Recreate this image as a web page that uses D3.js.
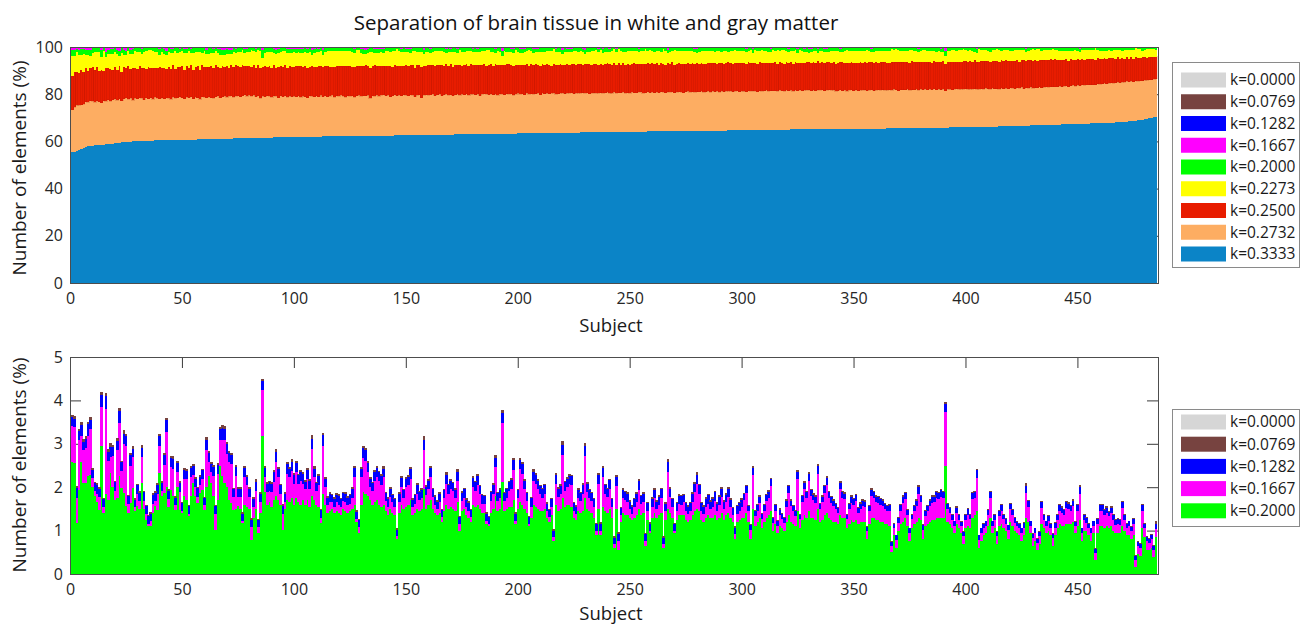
<!DOCTYPE html>
<html lang="en">
<head>
<meta charset="UTF-8">
<title>Separation of brain tissue in white and gray matter</title>
<script src="https://d3js.org/d3.v7.min.js"></script>
<style>
  body { margin: 0; background: #fff; font-family: "Open Sans", "Noto Sans", sans-serif; }
  .tick text { font-size: 16px; fill: #262626; font-family: "Open Sans", "Noto Sans", sans-serif; }
  .tick line { stroke: #3a3a3a; }
  .legend text { font-size: 15.5px; fill: #1a1a1a; }
</style>
</head>
<body>
<div id="chart"></div>
<script>
// percentage of elements per subject, one array per k value (subjects 1..485)
const k3333 = [
55.3,55.6,56.0,56.4,56.8,57.3,57.8,58.0,58.1,58.2,58.3,58.3,58.4,58.5,58.6,58.7,58.8,58.9,59.0,59.2,
59.3,59.5,59.6,59.7,59.8,59.9,59.9,60.0,60.0,60.1,60.1,60.2,60.2,60.2,60.3,60.3,60.3,60.4,60.4,60.4,
60.4,60.5,60.5,60.5,60.5,60.6,60.6,60.6,60.6,60.7,60.7,60.7,60.8,60.8,60.8,60.8,60.9,60.9,60.9,61.0,
61.0,61.0,61.0,61.1,61.1,61.1,61.1,61.2,61.2,61.2,61.2,61.2,61.3,61.3,61.3,61.3,61.4,61.4,61.4,61.4,
61.5,61.5,61.5,61.5,61.5,61.6,61.6,61.6,61.6,61.6,61.7,61.7,61.7,61.7,61.7,61.8,61.8,61.8,61.8,61.8,
61.9,61.9,61.9,61.9,61.9,61.9,62.0,62.0,62.0,62.0,62.0,62.0,62.1,62.1,62.1,62.1,62.1,62.1,62.2,62.2,
62.2,62.2,62.2,62.2,62.2,62.3,62.3,62.3,62.3,62.3,62.3,62.4,62.4,62.4,62.4,62.4,62.4,62.5,62.5,62.5,
62.5,62.5,62.5,62.5,62.6,62.6,62.6,62.6,62.6,62.6,62.7,62.7,62.7,62.7,62.7,62.7,62.7,62.8,62.8,62.8,
62.8,62.8,62.8,62.8,62.9,62.9,62.9,62.9,62.9,62.9,62.9,63.0,63.0,63.0,63.0,63.0,63.0,63.0,63.1,63.1,
63.1,63.1,63.1,63.1,63.1,63.2,63.2,63.2,63.2,63.2,63.2,63.2,63.3,63.3,63.3,63.3,63.3,63.3,63.3,63.4,
63.4,63.4,63.4,63.4,63.4,63.4,63.5,63.5,63.5,63.5,63.5,63.5,63.5,63.6,63.6,63.6,63.6,63.6,63.6,63.6,
63.7,63.7,63.7,63.7,63.7,63.7,63.7,63.8,63.8,63.8,63.8,63.8,63.8,63.8,63.8,63.9,63.9,63.9,63.9,63.9,
63.9,63.9,64.0,64.0,64.0,64.0,64.0,64.0,64.0,64.0,64.1,64.1,64.1,64.1,64.1,64.1,64.1,64.2,64.2,64.2,
64.2,64.2,64.2,64.2,64.2,64.3,64.3,64.3,64.3,64.3,64.3,64.3,64.4,64.4,64.4,64.4,64.4,64.4,64.4,64.5,
64.5,64.5,64.5,64.5,64.5,64.5,64.6,64.6,64.6,64.6,64.6,64.6,64.6,64.7,64.7,64.7,64.7,64.7,64.7,64.7,
64.8,64.8,64.8,64.8,64.8,64.8,64.8,64.9,64.9,64.9,64.9,64.9,64.9,64.9,65.0,65.0,65.0,65.0,65.0,65.0,
65.0,65.1,65.1,65.1,65.1,65.1,65.1,65.1,65.2,65.2,65.2,65.2,65.2,65.2,65.2,65.3,65.3,65.3,65.3,65.3,
65.1,65.1,65.1,65.2,65.2,65.2,65.2,65.2,65.2,65.2,65.3,65.3,65.3,65.3,65.3,65.3,65.3,65.4,65.4,65.4,
65.4,65.4,65.4,65.4,65.5,65.5,65.5,65.5,65.5,65.5,65.5,65.6,65.6,65.6,65.6,65.6,65.6,65.6,65.7,65.7,
65.7,65.7,65.7,65.7,65.7,65.8,65.8,65.8,65.8,65.8,65.8,65.8,65.9,65.9,65.9,65.9,65.9,65.9,66.0,66.0,
66.0,66.0,66.1,66.1,66.1,66.1,66.2,66.2,66.2,66.2,66.3,66.3,66.3,66.3,66.4,66.4,66.4,66.5,66.5,66.5,
66.5,66.6,66.6,66.6,66.7,66.7,66.7,66.7,66.8,66.8,66.8,66.9,66.9,66.9,66.9,67.0,67.0,67.0,67.1,67.1,
67.1,67.1,67.2,67.2,67.2,67.2,67.3,67.3,67.3,67.4,67.4,67.4,67.5,67.5,67.5,67.6,67.6,67.7,67.7,67.7,
67.8,67.8,67.9,67.9,68.0,68.0,68.1,68.1,68.2,68.2,68.3,68.4,68.5,68.6,68.7,68.8,68.9,69.0,69.2,69.4,
69.6,69.8,70.0,70.2,70.4
];

const k2732 = [
18.2,18.9,19.3,19.0,18.7,18.4,18.9,18.6,19.1,18.8,18.3,18.9,18.5,17.9,18.7,18.4,18.9,18.2,18.6,18.8,
18.1,18.5,17.6,18.3,18.6,18.0,18.4,17.5,18.2,17.9,18.3,18.0,17.4,18.2,17.8,18.1,17.6,18.3,17.9,17.7,
18.2,17.5,18.0,17.8,17.3,18.1,17.7,17.9,18.3,17.8,17.4,18.0,17.6,18.2,17.3,17.9,17.7,16.9,18.1,17.8,
17.5,18.0,17.6,17.2,17.9,18.3,17.4,17.8,18.0,17.6,17.9,18.2,17.5,17.8,18.1,17.6,17.9,18.4,17.8,18.1,
17.7,18.0,17.4,17.9,16.8,17.6,17.3,17.8,17.5,17.1,17.7,17.4,16.9,17.6,17.3,17.5,17.0,17.4,17.2,17.3,
17.1,17.5,16.8,17.3,17.0,16.5,17.4,17.1,16.9,17.3,17.0,17.5,16.8,17.2,16.9,17.1,17.4,16.7,17.2,16.9,
17.3,17.0,16.6,17.2,16.9,17.1,16.4,17.0,17.3,16.8,17.1,16.9,17.2,15.9,17.0,16.8,17.1,16.6,17.0,17.2,
16.8,17.1,16.5,16.9,17.2,16.7,17.0,16.8,17.1,16.9,16.6,17.0,16.8,16.3,16.9,17.1,15.8,16.8,17.0,16.7,
16.9,17.1,16.6,16.9,17.0,16.5,16.8,17.1,16.7,16.9,16.4,16.8,17.0,16.6,16.9,16.7,17.1,16.5,16.8,16.9,
16.6,16.9,16.3,16.8,17.0,16.7,16.5,16.9,16.6,16.8,16.4,16.9,16.7,16.5,16.8,16.6,16.9,16.2,16.7,16.9,
16.6,16.8,16.4,16.9,16.6,16.8,16.5,16.7,16.9,16.3,16.8,16.6,16.9,16.5,16.7,16.8,16.4,16.6,16.9,16.7,
16.5,16.8,16.6,16.9,16.4,16.7,16.8,16.5,16.9,16.6,16.8,16.3,16.7,16.9,16.5,16.6,16.8,16.4,16.7,16.9,
16.6,16.5,16.8,16.3,16.7,16.6,16.9,16.5,16.7,16.4,16.8,16.6,16.5,16.7,16.9,16.4,16.6,16.8,16.5,16.7,
16.4,16.7,16.5,16.8,16.6,16.3,16.7,16.5,16.8,16.4,16.6,16.7,16.5,16.2,16.6,16.8,16.5,16.7,16.4,16.6,
16.5,16.7,16.3,16.6,16.8,16.4,16.6,16.5,16.7,16.3,16.6,16.4,16.7,16.5,16.6,16.3,16.5,16.7,16.4,16.6,
16.5,16.3,16.6,16.4,16.7,16.5,16.2,16.6,16.4,16.5,16.7,16.3,16.5,16.6,16.4,16.2,16.6,16.5,16.3,16.6,
16.4,16.5,16.2,16.6,16.4,16.7,16.3,16.5,16.4,16.6,16.2,16.5,16.3,16.6,16.4,16.5,16.1,16.4,16.6,16.3,
16.5,16.2,16.4,16.6,16.3,16.5,16.1,16.4,16.6,16.3,16.5,16.2,16.4,16.3,16.6,16.2,16.4,16.5,16.1,16.3,
16.4,16.2,16.5,16.3,16.1,16.4,16.2,16.5,16.3,16.0,16.4,16.2,16.3,16.5,16.1,16.3,16.2,16.4,16.0,16.3,
16.2,16.4,16.1,16.3,16.2,16.5,16.0,16.3,16.1,16.4,15.6,16.2,16.3,16.0,16.2,16.4,16.1,16.2,16.0,16.3,
16.1,16.2,16.0,16.3,16.1,15.9,16.2,16.0,16.3,16.1,15.9,16.2,16.0,16.1,15.8,16.2,16.0,16.1,15.9,16.2,
16.0,15.8,16.1,15.9,16.2,15.7,16.0,15.9,16.1,15.8,16.0,15.9,16.2,15.8,16.0,16.1,15.9,16.2,16.0,16.1,
16.0,16.2,15.9,16.1,16.3,16.0,16.2,16.4,16.1,16.3,16.2,16.5,16.3,16.4,16.6,16.3,16.5,16.4,16.7,16.5,
16.6,16.8,16.5,16.7,16.9,16.6,16.8,17.0,16.7,16.9,16.8,17.0,16.7,16.9,16.6,16.8,16.5,16.7,16.4,16.6,
16.4,16.3,16.2,16.1,16.1
];

const k2500 = [
14.1,15.0,14.2,13.6,14.8,13.9,14.5,13.2,14.1,14.6,13.5,14.2,12.9,13.8,12.6,14.1,13.2,13.7,12.5,13.4,
13.0,13.8,12.4,13.5,12.9,13.9,12.2,13.4,13.1,12.6,13.7,12.8,13.3,12.1,13.6,12.9,13.4,12.3,13.0,13.5,
12.7,13.3,12.1,13.2,12.8,13.6,12.4,13.0,12.6,13.4,12.2,13.1,12.9,13.5,12.3,12.8,13.2,12.5,13.3,12.7,
12.9,12.4,13.2,12.6,13.4,12.1,12.8,13.0,12.5,13.3,12.2,12.9,12.6,13.1,12.4,12.8,13.2,12.3,12.9,12.6,
12.4,12.9,12.2,13.0,12.7,12.5,13.1,12.3,12.8,12.6,13.0,12.2,12.9,12.5,12.7,13.1,12.4,12.8,12.6,12.3,
12.8,12.5,13.1,12.4,12.9,12.6,12.2,13.0,12.7,12.4,12.9,12.3,12.8,12.6,13.0,12.5,12.2,12.9,12.6,12.8,
12.4,12.7,13.0,12.5,12.8,12.3,12.9,12.6,12.2,12.8,12.5,12.9,12.4,12.7,12.6,13.0,12.3,12.8,12.5,12.2,
12.7,12.5,12.9,12.3,12.6,12.8,12.4,12.7,12.2,12.9,12.5,12.6,12.8,12.3,12.7,12.4,12.9,12.5,12.2,12.8,
12.5,12.3,12.7,12.6,12.4,12.8,12.2,12.6,12.5,12.9,12.3,12.7,12.4,12.6,12.2,12.8,12.5,12.3,12.7,12.4,
12.6,12.3,12.8,12.4,12.5,12.2,12.7,12.5,12.3,12.6,12.8,12.4,12.2,12.6,12.5,12.7,12.3,12.5,12.4,12.1,
12.4,12.1,12.6,12.3,12.0,12.5,12.2,12.4,11.9,12.3,12.6,12.1,12.4,12.2,11.8,12.5,12.3,12.0,12.4,12.2,
12.1,12.4,11.9,12.3,12.5,12.0,12.2,12.4,11.8,12.3,12.1,12.5,12.0,12.2,12.4,11.9,12.3,12.1,12.0,12.4,
12.2,11.9,12.3,12.1,12.4,11.8,12.2,12.0,12.3,12.1,11.9,12.4,12.2,12.0,11.8,12.3,12.1,12.2,11.9,12.3,
12.0,12.2,11.8,12.3,12.1,11.9,12.2,12.0,12.4,11.8,12.1,12.3,11.9,12.2,12.0,12.1,11.7,12.2,12.0,12.3,
11.9,12.1,12.2,11.8,12.0,12.3,11.9,12.1,11.7,12.2,12.0,11.8,12.1,12.3,11.9,12.0,12.2,11.8,12.1,11.9,
12.0,11.8,12.2,11.9,11.7,12.1,11.9,12.2,11.8,12.0,11.6,12.1,11.9,11.7,12.2,11.8,12.0,11.9,11.6,12.1,
11.8,12.0,11.7,12.1,11.9,11.6,12.0,11.8,12.2,11.7,11.9,12.0,11.6,12.1,11.8,11.9,11.7,12.0,11.8,11.6,
12.0,11.7,11.9,11.8,12.1,11.6,11.9,11.7,12.0,11.8,11.5,11.9,12.0,11.7,11.8,11.6,12.0,11.7,11.9,11.8,
11.6,11.9,11.7,12.0,11.8,11.5,11.9,11.7,11.8,12.0,11.6,11.8,11.9,11.5,11.7,12.0,11.8,11.6,11.9,11.7,
11.8,11.6,11.9,11.7,11.5,11.8,12.0,11.6,11.7,11.9,11.4,11.8,11.6,11.9,11.7,11.5,11.8,11.6,11.9,11.7,
11.6,11.8,11.5,11.9,11.4,11.7,11.6,11.8,11.5,11.9,11.3,11.7,11.6,11.8,11.4,11.7,11.5,11.9,11.6,11.4,
11.7,11.5,11.8,11.3,11.6,11.9,11.4,11.7,11.5,11.6,11.8,11.3,11.6,11.7,11.4,11.6,11.5,11.8,11.3,11.6,
11.4,11.2,11.5,11.1,11.3,11.0,11.4,10.9,11.2,11.1,10.8,11.2,10.9,11.0,10.7,11.1,10.8,10.6,10.9,10.7,
10.5,10.8,10.4,10.6,10.3,10.7,10.2,10.5,10.1,10.4,10.0,10.3,9.9,10.2,9.8,10.1,9.9,9.7,10.0,9.6,
9.5,9.8,9.4,9.6,9.3
];

const k2000 = [
2.57,2.55,1.18,1.94,2.59,2.10,2.10,2.25,2.29,2.00,1.80,1.65,1.48,2.94,1.40,1.85,1.71,2.33,2.00,1.71,
1.75,2.25,1.98,1.87,1.56,1.40,1.64,1.98,1.45,1.56,1.50,2.10,1.50,1.25,1.10,1.10,1.40,1.56,1.48,2.33,
1.79,1.87,2.00,1.55,1.94,1.79,1.48,2.00,1.48,1.40,1.79,1.70,1.33,1.79,2.10,1.79,1.64,1.87,1.94,1.48,
2.00,2.25,2.10,1.79,1.02,1.71,2.48,2.25,2.10,2.00,1.71,1.64,1.48,1.50,1.56,1.50,1.18,1.60,1.55,1.50,
0.79,1.30,1.50,0.95,1.40,3.17,1.90,1.60,1.65,1.55,1.70,1.80,1.70,1.60,1.02,1.50,1.70,1.65,1.75,1.60,
1.75,1.65,1.60,1.70,1.60,1.70,1.55,1.80,1.70,1.60,1.55,1.17,1.85,1.60,1.40,1.45,1.50,1.40,1.45,1.40,
1.35,1.50,1.45,1.40,1.45,1.50,1.60,1.20,0.95,1.60,1.90,1.85,1.80,1.70,1.60,1.65,1.70,1.60,1.55,1.60,
1.45,1.35,1.50,1.40,1.35,0.80,1.40,1.60,1.50,1.55,1.60,1.70,1.35,1.40,1.50,1.45,1.50,1.95,1.50,1.60,
1.70,1.50,1.40,1.35,1.40,1.20,1.45,1.60,1.50,1.55,1.50,1.45,1.65,1.00,1.45,1.50,1.35,1.30,1.20,1.60,
1.55,1.60,1.50,1.40,1.40,1.15,1.10,1.40,1.50,1.80,1.45,1.50,2.13,1.45,1.50,1.55,1.55,1.70,1.15,1.50,
1.65,1.60,1.50,1.40,1.10,1.30,1.60,1.55,1.50,1.45,1.45,1.50,1.30,1.20,1.35,0.75,1.60,1.45,1.50,1.75,
1.55,1.60,1.60,1.55,1.30,1.25,1.45,1.40,1.45,1.75,1.50,1.45,1.40,1.30,0.90,1.50,0.90,1.55,1.45,1.40,
1.50,1.30,0.60,1.50,0.56,1.20,1.40,1.35,1.35,1.30,1.25,1.30,1.35,1.50,1.35,1.40,0.65,1.25,0.95,1.30,
1.40,1.30,1.35,1.40,0.60,1.25,1.50,1.40,1.30,0.95,1.25,1.35,1.35,1.35,1.25,1.20,1.25,1.35,1.45,1.50,
1.45,1.25,1.20,1.30,1.35,1.30,1.30,1.35,1.25,1.30,1.40,1.25,1.35,1.40,1.30,1.20,0.80,1.20,1.25,1.30,
1.30,1.40,1.20,0.80,1.50,1.10,1.20,1.30,1.05,1.20,1.30,1.35,1.45,1.00,1.15,0.95,1.10,1.05,1.00,1.20,
1.35,1.20,1.15,1.10,1.45,1.05,1.25,1.35,1.30,1.45,1.30,1.30,1.25,1.50,1.20,1.25,1.35,1.40,1.30,1.25,
1.20,1.20,1.15,1.35,1.30,1.30,1.05,1.15,1.25,1.20,1.25,1.15,1.20,1.20,1.20,0.80,1.15,1.30,1.30,1.25,
1.25,1.20,1.20,1.15,1.15,1.10,0.50,0.90,0.60,1.00,1.15,1.20,1.30,1.10,0.75,1.05,1.15,1.20,1.30,1.25,
0.80,1.10,1.15,1.20,1.25,1.25,1.30,1.30,1.30,1.30,2.48,1.20,1.15,1.05,0.95,1.15,1.05,0.95,0.70,1.05,
1.10,1.05,1.30,1.35,1.45,0.60,0.75,0.90,0.95,1.10,1.30,0.95,1.05,0.70,1.10,1.15,1.05,1.00,0.80,1.20,
1.10,1.00,0.95,0.90,0.75,0.90,1.30,1.20,0.95,0.65,0.75,0.55,0.70,1.15,1.05,0.95,1.00,0.90,0.65,0.90,
1.05,1.15,1.10,1.10,1.15,1.15,1.15,1.20,0.95,1.10,1.25,0.75,1.00,1.00,0.90,0.75,0.95,0.32,0.95,1.10,
1.10,1.05,1.10,1.05,1.10,1.00,0.95,0.95,0.95,1.10,1.00,0.90,0.90,0.80,0.90,0.15,0.45,0.42,1.05,0.85,
0.55,0.55,0.60,0.40,0.85
];

const k1667 = [
0.83,0.83,0.57,1.14,0.60,0.75,0.80,0.94,1.06,0.22,0.12,0.20,0.29,0.91,0.15,1.95,0.90,0.36,0.73,0.21,
1.10,1.22,0.40,1.13,1.40,0.22,0.86,0.71,0.09,0.29,0.19,0.59,0.19,0.14,0.05,0.13,0.22,0.13,0.37,0.61,
0.13,0.65,1.27,0.18,0.52,0.63,0.10,0.35,0.40,0.06,0.40,0.49,0.06,0.44,0.19,0.21,0.13,0.19,0.25,0.10,
0.85,0.33,0.25,0.46,0.37,0.60,0.60,0.83,0.98,0.77,0.87,0.90,0.29,0.75,0.21,0.27,0.05,0.63,0.50,0.27,
0.29,0.24,0.42,0.13,0.25,1.06,0.33,0.29,0.27,0.34,0.42,0.78,0.53,0.25,0.37,0.15,0.61,0.58,0.63,0.48,
0.60,0.43,0.55,0.38,0.35,0.49,0.40,1.07,0.53,0.32,0.50,0.13,1.09,0.40,0.18,0.20,0.15,0.14,0.20,0.20,
0.19,0.19,0.20,0.18,0.17,0.25,0.63,0.07,0.13,0.63,0.77,0.76,0.55,0.30,0.32,0.50,0.53,0.55,0.50,0.63,
0.24,0.19,0.27,0.25,0.19,0.07,0.25,0.40,0.25,0.45,0.45,0.49,0.19,0.22,0.35,0.25,0.25,0.90,0.31,0.35,
0.53,0.27,0.18,0.15,0.25,0.11,0.30,0.48,0.35,0.40,0.42,0.30,0.50,0.15,0.24,0.25,0.19,0.15,0.11,0.40,
0.37,0.45,0.35,0.22,0.22,0.08,0.06,0.29,0.35,0.66,0.24,0.25,1.34,0.24,0.25,0.37,0.40,0.70,0.08,0.25,
0.77,0.71,0.45,0.29,0.06,0.25,0.55,0.53,0.45,0.40,0.30,0.35,0.15,0.11,0.19,0.10,0.48,0.32,0.35,1.00,
0.37,0.40,0.48,0.49,0.16,0.14,0.30,0.29,0.40,0.98,0.38,0.30,0.29,0.24,0.10,0.58,0.10,0.68,0.40,0.37,
0.46,0.25,0.09,0.52,0.21,0.15,0.35,0.35,0.30,0.20,0.14,0.24,0.30,0.44,0.27,0.25,0.12,0.21,0.05,0.25,
0.35,0.20,0.25,0.35,0.09,0.20,0.85,0.37,0.25,0.05,0.21,0.27,0.25,0.30,0.20,0.19,0.21,0.30,0.43,0.58,
0.40,0.21,0.19,0.25,0.27,0.20,0.25,0.34,0.21,0.30,0.37,0.25,0.30,0.37,0.24,0.15,0.12,0.19,0.20,0.24,
0.40,0.47,0.25,0.22,0.79,0.23,0.25,0.34,0.21,0.25,0.38,0.40,0.57,0.18,0.30,0.15,0.25,0.21,0.18,0.35,
0.52,0.36,0.30,0.23,0.74,0.21,0.40,0.60,0.45,0.69,0.49,0.40,0.39,0.81,0.29,0.40,0.52,0.66,0.45,0.39,
0.36,0.30,0.26,0.60,0.45,0.42,0.21,0.34,0.39,0.40,0.43,0.26,0.29,0.36,0.35,0.19,0.30,0.49,0.45,0.40,
0.39,0.40,0.36,0.34,0.30,0.35,0.14,0.15,0.19,0.18,0.30,0.44,0.42,0.25,0.20,0.21,0.30,0.36,0.55,0.40,
0.22,0.23,0.30,0.36,0.39,0.40,0.45,0.42,0.48,0.45,1.26,0.29,0.26,0.20,0.15,0.26,0.20,0.15,0.17,0.20,
0.27,0.21,0.42,0.40,0.77,0.19,0.20,0.15,0.15,0.25,0.45,0.15,0.20,0.17,0.23,0.30,0.21,0.15,0.22,0.29,
0.25,0.18,0.15,0.15,0.20,0.16,0.57,0.35,0.15,0.18,0.20,0.17,0.17,0.37,0.20,0.15,0.22,0.15,0.18,0.16,
0.20,0.30,0.31,0.25,0.37,0.34,0.30,0.36,0.15,0.35,0.60,0.20,0.25,0.18,0.15,0.20,0.15,0.17,0.20,0.35,
0.35,0.30,0.31,0.28,0.31,0.25,0.19,0.20,0.19,0.42,0.25,0.16,0.20,0.19,0.25,0.18,0.19,0.18,0.40,0.20,
0.20,0.17,0.20,0.16,0.19
];

const k1282 = [
0.22,0.20,0.24,0.21,0.25,0.20,0.22,0.26,0.20,0.18,0.17,0.20,0.19,0.28,0.18,0.30,0.21,0.24,0.20,0.19,
0.22,0.28,0.19,0.23,0.21,0.18,0.24,0.20,0.17,0.19,0.18,0.22,0.19,0.17,0.18,0.16,0.20,0.18,0.21,0.24,
0.18,0.22,0.27,0.19,0.21,0.23,0.18,0.20,0.22,0.17,0.21,0.19,0.18,0.22,0.20,0.19,0.21,0.18,0.20,0.17,
0.24,0.21,0.19,0.22,0.18,0.20,0.26,0.29,0.27,0.22,0.20,0.21,0.18,0.22,0.19,0.20,0.16,0.21,0.19,0.20,
0.17,0.19,0.21,0.16,0.20,0.22,0.21,0.19,0.20,0.18,0.22,0.24,0.20,0.19,0.18,0.20,0.23,0.19,0.21,0.20,
0.21,0.19,0.20,0.22,0.18,0.21,0.19,0.25,0.20,0.18,0.21,0.17,0.26,0.19,0.18,0.20,0.17,0.19,0.18,0.20,
0.19,0.17,0.20,0.18,0.19,0.21,0.22,0.17,0.16,0.20,0.23,0.24,0.21,0.19,0.18,0.20,0.22,0.19,0.21,0.20,
0.18,0.19,0.20,0.17,0.18,0.15,0.19,0.21,0.18,0.20,0.19,0.22,0.17,0.19,0.20,0.18,0.19,0.24,0.19,0.20,
0.21,0.18,0.19,0.17,0.20,0.16,0.18,0.21,0.19,0.20,0.18,0.19,0.21,0.16,0.18,0.20,0.17,0.19,0.16,0.21,
0.19,0.20,0.18,0.19,0.17,0.16,0.15,0.19,0.20,0.22,0.18,0.19,0.25,0.18,0.20,0.19,0.21,0.22,0.16,0.18,
0.21,0.22,0.19,0.18,0.15,0.19,0.21,0.20,0.19,0.18,0.20,0.19,0.17,0.16,0.18,0.15,0.20,0.19,0.18,0.23,
0.19,0.20,0.18,0.21,0.17,0.16,0.19,0.18,0.20,0.22,0.19,0.18,0.17,0.19,0.15,0.20,0.16,0.21,0.19,0.18,
0.20,0.18,0.15,0.21,0.16,0.17,0.19,0.18,0.20,0.17,0.16,0.18,0.19,0.20,0.18,0.19,0.15,0.17,0.16,0.18,
0.19,0.17,0.18,0.20,0.15,0.17,0.22,0.19,0.18,0.15,0.17,0.18,0.19,0.17,0.18,0.16,0.17,0.19,0.20,0.21,
0.19,0.17,0.16,0.18,0.19,0.17,0.18,0.19,0.16,0.18,0.20,0.17,0.18,0.19,0.17,0.16,0.15,0.17,0.18,0.17,
0.14,0.15,0.12,0.11,0.16,0.12,0.13,0.14,0.12,0.13,0.14,0.15,0.16,0.11,0.13,0.12,0.13,0.12,0.11,0.14,
0.15,0.13,0.12,0.12,0.16,0.11,0.14,0.15,0.13,0.16,0.14,0.13,0.14,0.17,0.12,0.13,0.15,0.16,0.14,0.13,
0.13,0.12,0.12,0.15,0.14,0.13,0.11,0.12,0.14,0.13,0.14,0.12,0.13,0.13,0.12,0.10,0.12,0.15,0.14,0.13,
0.13,0.12,0.13,0.12,0.12,0.13,0.10,0.11,0.10,0.12,0.13,0.14,0.14,0.12,0.10,0.11,0.12,0.13,0.15,0.14,
0.11,0.12,0.12,0.13,0.14,0.13,0.14,0.14,0.15,0.14,0.18,0.12,0.12,0.11,0.11,0.12,0.11,0.10,0.10,0.11,
0.12,0.11,0.14,0.14,0.17,0.10,0.10,0.11,0.11,0.12,0.14,0.11,0.12,0.10,0.12,0.13,0.11,0.11,0.10,0.12,
0.12,0.11,0.10,0.10,0.10,0.11,0.15,0.13,0.11,0.10,0.10,0.09,0.10,0.13,0.12,0.11,0.12,0.10,0.10,0.11,
0.12,0.13,0.12,0.12,0.13,0.13,0.12,0.13,0.10,0.13,0.16,0.10,0.12,0.11,0.10,0.10,0.11,0.08,0.11,0.13,
0.13,0.12,0.12,0.11,0.12,0.11,0.10,0.11,0.10,0.14,0.12,0.10,0.11,0.10,0.11,0.08,0.09,0.09,0.13,0.11,
0.10,0.09,0.10,0.09,0.11
];

const k0769 = [
0.05,0.06,0.04,0.05,0.06,0.05,0.07,0.05,0.06,0.04,0.03,0.05,0.04,0.07,0.03,0.06,0.05,0.08,0.05,0.04,
0.06,0.07,0.04,0.08,0.05,0.03,0.05,0.06,0.03,0.04,0.04,0.06,0.04,0.03,0.03,0.04,0.05,0.04,0.04,0.05,
0.04,0.05,0.06,0.03,0.05,0.07,0.03,0.05,0.04,0.03,0.05,0.04,0.03,0.05,0.04,0.04,0.03,0.05,0.04,0.03,
0.06,0.05,0.04,0.05,0.03,0.04,0.05,0.06,0.07,0.05,0.06,0.04,0.03,0.05,0.04,0.04,0.03,0.05,0.04,0.04,
0.03,0.04,0.05,0.03,0.04,0.05,0.04,0.04,0.03,0.04,0.05,0.06,0.04,0.03,0.04,0.03,0.05,0.04,0.05,0.04,
0.05,0.04,0.04,0.05,0.03,0.04,0.04,0.08,0.05,0.03,0.04,0.03,0.05,0.04,0.03,0.04,0.03,0.04,0.03,0.04,
0.03,0.04,0.03,0.04,0.03,0.04,0.05,0.03,0.03,0.04,0.05,0.06,0.04,0.04,0.03,0.04,0.05,0.04,0.04,0.05,
0.03,0.04,0.04,0.03,0.04,0.03,0.04,0.05,0.03,0.04,0.04,0.05,0.03,0.04,0.04,0.03,0.04,0.08,0.04,0.04,
0.05,0.03,0.04,0.03,0.04,0.03,0.04,0.06,0.04,0.04,0.03,0.04,0.05,0.03,0.04,0.04,0.03,0.04,0.03,0.05,
0.04,0.05,0.03,0.04,0.03,0.03,0.03,0.04,0.04,0.06,0.03,0.04,0.05,0.03,0.04,0.04,0.05,0.06,0.03,0.04,
0.05,0.05,0.04,0.03,0.03,0.04,0.05,0.04,0.04,0.03,0.04,0.04,0.03,0.03,0.04,0.03,0.05,0.04,0.04,0.08,
0.04,0.04,0.05,0.04,0.03,0.03,0.04,0.03,0.04,0.07,0.04,0.03,0.04,0.03,0.03,0.05,0.03,0.05,0.04,0.04,
0.04,0.03,0.03,0.05,0.03,0.03,0.04,0.04,0.04,0.03,0.03,0.04,0.04,0.05,0.03,0.04,0.03,0.04,0.03,0.04,
0.04,0.03,0.04,0.04,0.03,0.03,0.08,0.04,0.03,0.03,0.03,0.04,0.04,0.03,0.03,0.03,0.04,0.04,0.05,0.05,
0.04,0.03,0.03,0.04,0.04,0.03,0.04,0.04,0.03,0.04,0.04,0.03,0.04,0.04,0.03,0.03,0.03,0.03,0.04,0.03,
0.03,0.04,0.02,0.02,0.05,0.02,0.03,0.03,0.02,0.03,0.03,0.03,0.04,0.02,0.03,0.02,0.03,0.02,0.02,0.03,
0.04,0.03,0.02,0.02,0.05,0.02,0.03,0.04,0.03,0.04,0.03,0.03,0.03,0.05,0.02,0.03,0.04,0.04,0.03,0.03,
0.03,0.02,0.02,0.04,0.03,0.03,0.02,0.03,0.03,0.03,0.03,0.02,0.03,0.03,0.03,0.02,0.03,0.04,0.03,0.03,
0.03,0.03,0.03,0.02,0.03,0.03,0.02,0.02,0.02,0.02,0.03,0.03,0.03,0.02,0.02,0.02,0.03,0.03,0.04,0.03,
0.02,0.02,0.03,0.03,0.03,0.03,0.03,0.03,0.04,0.03,0.05,0.02,0.02,0.02,0.02,0.03,0.02,0.02,0.02,0.02,
0.02,0.02,0.03,0.03,0.04,0.02,0.02,0.02,0.02,0.03,0.03,0.02,0.02,0.02,0.02,0.03,0.02,0.02,0.02,0.03,
0.02,0.02,0.02,0.02,0.02,0.02,0.07,0.03,0.02,0.02,0.02,0.02,0.02,0.03,0.02,0.02,0.03,0.02,0.02,0.02,
0.02,0.03,0.03,0.02,0.03,0.03,0.03,0.03,0.02,0.03,0.04,0.02,0.02,0.02,0.02,0.02,0.02,0.02,0.02,0.03,
0.03,0.02,0.03,0.02,0.03,0.02,0.02,0.02,0.02,0.03,0.02,0.02,0.02,0.02,0.02,0.02,0.02,0.02,0.03,0.02,
0.02,0.02,0.02,0.02,0.06
];

const k0000 = [
0,0,0,0,0,0,0,0,0,0,0,0,0,0,0,0,0,0,0,0,0,0,0,0,0,0,0,0,0,0,0,0,0,0,0,0,0,0,0,0,
0,0,0,0,0,0,0,0,0,0,0,0,0,0,0,0,0,0,0,0,0,0,0,0,0,0,0,0,0,0,0,0,0,0,0,0,0,0,0,0,
0,0,0,0,0,0,0,0,0,0,0,0,0,0,0,0,0,0,0,0,0,0,0,0,0,0,0,0,0,0,0,0,0,0,0,0,0,0,0,0,
0,0,0,0,0,0,0,0,0,0,0,0,0,0,0,0,0,0,0,0,0,0,0,0,0,0,0,0,0,0,0,0,0,0,0,0,0,0,0,0,
0,0,0,0,0,0,0,0,0,0,0,0,0,0,0,0,0,0,0,0,0,0,0,0,0,0,0,0,0,0,0,0,0,0,0,0,0,0,0,0,
0,0,0,0,0,0,0,0,0,0,0,0,0,0,0,0,0,0,0,0,0,0,0,0,0,0,0,0,0,0,0,0,0,0,0,0,0,0,0,0,
0,0,0,0,0,0,0,0,0,0,0,0,0,0,0,0,0,0,0,0,0,0,0,0,0,0,0,0,0,0,0,0,0,0,0,0,0,0,0,0,
0,0,0,0,0,0,0,0,0,0,0,0,0,0,0,0,0,0,0,0,0,0,0,0,0,0,0,0,0,0,0,0,0,0,0,0,0,0,0,0,
0,0,0,0,0,0,0,0,0,0,0,0,0,0,0,0,0,0,0,0,0,0,0,0,0,0,0,0,0,0,0,0,0,0,0,0,0,0,0,0,
0,0,0,0,0,0,0,0,0,0,0,0,0,0,0,0,0,0,0,0,0,0,0,0,0,0,0,0,0,0,0,0,0,0,0,0,0,0,0,0,
0,0,0,0,0,0,0,0,0,0,0,0,0,0,0,0,0,0,0,0,0,0,0,0,0,0,0,0,0,0,0,0,0,0,0,0,0,0,0,0,
0,0,0,0,0,0,0,0,0,0,0,0,0,0,0,0,0,0,0,0,0,0,0,0,0,0,0,0,0,0,0,0,0,0,0,0,0,0,0,0,
0,0,0,0,0
];

const xTicks = [0, 50, 100, 150, 200, 250, 300, 350, 400, 450];
const yTicksTop = [0, 20, 40, 60, 80, 100];
const yTicksBottom = [0, 1, 2, 3, 4, 5];

// series, bottom of the stack first
const series = [
  {key: "k3333", label: "k=0.3333", color: "#0b84c7"},
  {key: "k2732", label: "k=0.2732", color: "#fdad62"},
  {key: "k2500", label: "k=0.2500", color: "#e81c00"},
  {key: "k2273", label: "k=0.2273", color: "#ffff00"},
  {key: "k2000", label: "k=0.2000", color: "#00ff00"},
  {key: "k1667", label: "k=0.1667", color: "#ff00ff"},
  {key: "k1282", label: "k=0.1282", color: "#0000ff"},
  {key: "k0769", label: "k=0.0769", color: "#774340"},
  {key: "k0000", label: "k=0.0000", color: "#d6d6d6"}
];
const color = d3.scaleOrdinal(series.map(s => s.key), series.map(s => s.color));
const label = new Map(series.map(s => [s.key, s.label]));

const N = k3333.length;
const rows = d3.range(N).map(i => {
  const small = k2000[i] + k1667[i] + k1282[i] + k0769[i] + k0000[i];
  return {
    subject: i + 1,
    k3333: k3333[i], k2732: k2732[i], k2500: k2500[i],
    // yellow band fills the rest of the 100 %
    k2273: 100 - k3333[i] - k2732[i] - k2500[i] - small,
    k2000: k2000[i], k1667: k1667[i], k1282: k1282[i], k0769: k0769[i], k0000: k0000[i]
  };
});

const W = 1314, H = 625;
const svg = d3.select("#chart").append("svg")
  .attr("width", W).attr("height", H)
  .style("font-family", "'Open Sans', 'Noto Sans', sans-serif");

const x = d3.scaleLinear().domain([0, 486]).range([70, 1158]);

function panel(opt) {
  const y = d3.scaleLinear().domain(opt.yDomain).range([opt.bottom, opt.top]);
  const g = svg.append("g");

  // ticks (drawn below the bars, like the original)
  g.append("g").attr("transform", `translate(0,${opt.bottom})`)
    .call(d3.axisBottom(x).tickValues(xTicks).tickSize(-11).tickPadding(10))
    .call(a => a.select(".domain").remove());
  g.append("g").attr("transform", `translate(0,${opt.top})`)
    .call(d3.axisTop(x).tickValues(xTicks).tickSize(-11).tickFormat(""))
    .call(a => a.select(".domain").remove());
  g.append("g").attr("transform", `translate(70,0)`)
    .call(d3.axisLeft(y).tickValues(opt.yTicks).tickFormat(d3.format("d")).tickSize(-11).tickPadding(7))
    .call(a => a.select(".domain").remove());
  g.append("g").attr("transform", `translate(1158,0)`)
    .call(d3.axisRight(y).tickValues(opt.yTicks).tickSize(-11).tickFormat(""))
    .call(a => a.select(".domain").remove());

  const stacked = d3.stack().keys(opt.keys)(rows);
  const bw = x(1) - x(0);
  const layers = g.append("g")
    .attr("shape-rendering", "crispEdges")
    .selectAll("g")
    .data(stacked)
    .join("g")
      .attr("fill", d => color(d.key));
  layers.selectAll("rect")
    .data(d => d)
    .join("rect")
      .attr("x", d => x(d.data.subject - 0.5))
      .attr("width", bw + 0.4)
      .attr("y", d => y(Math.min(d[1], opt.yDomain[1])))
      .attr("height", d => Math.max(0, y(d[0]) - y(Math.min(d[1], opt.yDomain[1]))));
  // darker bar edges in the red band, as in the original
  layers.filter(d => d.key === "k2500").selectAll("rect")
    .attr("stroke", "#9c1200").attr("stroke-width", 0.5).attr("stroke-opacity", 0.35);

  // axes box
  g.append("rect")
    .attr("x", 70).attr("y", opt.top)
    .attr("width", 1158 - 70).attr("height", opt.bottom - opt.top)
    .attr("fill", "none").attr("stroke", "#4d4d4d").attr("stroke-width", 1)
    .attr("shape-rendering", "crispEdges");

  // labels
  g.append("text")
    .attr("x", 611).attr("y", opt.subjectY)
    .attr("text-anchor", "middle").attr("font-size", 18.5).attr("fill", "#1a1a1a")
    .text("Subject");
  g.append("text")
    .attr("transform", `translate(26,${opt.ylabelY}) rotate(-90)`)
    .attr("text-anchor", "middle").attr("font-size", 19).attr("fill", "#1a1a1a")
    .text("Number of elements (%)");

  // legend, top entry first
  const lg = svg.append("g").attr("class", "legend");
  const items = opt.keys.slice().reverse();
  lg.append("rect")
    .attr("x", 1172).attr("y", opt.legendTop)
    .attr("width", 127).attr("height", opt.legendHeight)
    .attr("fill", "#fff").attr("stroke", "#8a8a8a").attr("shape-rendering", "crispEdges");
  const row = lg.selectAll("g.item").data(items).join("g")
    .attr("class", "item")
    .attr("transform", (d, i) => `translate(0,${opt.legendFirst + i * opt.legendStep})`);
  row.append("rect")
    .attr("x", 1181).attr("y", -7.5).attr("width", 45).attr("height", 15)
    .attr("fill", d => color(d));
  row.append("text")
    .attr("x", 1230).attr("dy", "0.35em")
    .text(d => label.get(d));
}

panel({
  top: 47, bottom: 283, yDomain: [0, 100], yTicks: yTicksTop,
  keys: ["k3333", "k2732", "k2500", "k2273", "k2000", "k1667", "k1282", "k0769", "k0000"],
  subjectY: 332, ylabelY: 168,
  legendTop: 62, legendHeight: 205, legendFirst: 80, legendStep: 21.75
});

panel({
  top: 357, bottom: 574, yDomain: [0, 5], yTicks: yTicksBottom,
  keys: ["k2000", "k1667", "k1282", "k0769", "k0000"],
  subjectY: 620, ylabelY: 465,
  legendTop: 409, legendHeight: 117, legendFirst: 422, legendStep: 22.2
});

svg.append("text")
  .attr("x", 596).attr("y", 30)
  .attr("text-anchor", "middle").attr("font-size", 20.5).attr("fill", "#111")
  .text("Separation of brain tissue in white and gray matter");
</script>
</body>
</html>
